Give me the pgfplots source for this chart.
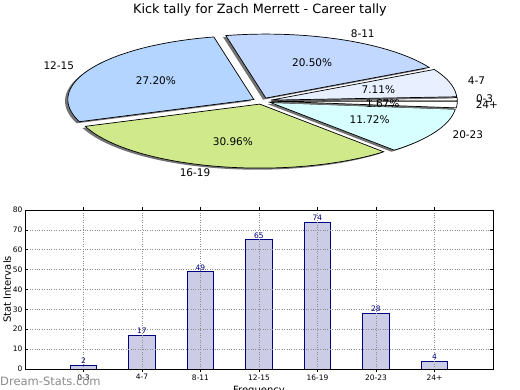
\documentclass[border=0pt]{standalone}
\usepackage{fontspec}
\setmainfont{DejaVu Sans}
\usepackage{pgfplots}
\pgfplotsset{compat=1.18}
\pgfkeys{/pgf/number format/assume math mode=true}

\definecolor{c03}{HTML}{FFFFFF}
\definecolor{c47}{HTML}{E8F0FF}
\definecolor{c811}{HTML}{C2D8FF}
\definecolor{c1215}{HTML}{B3D5FF}
\definecolor{c1619}{HTML}{D0EA8B}
\definecolor{c2023}{HTML}{D8FFFF}
\definecolor{c24}{HTML}{FFFFFF}
\definecolor{barfill}{HTML}{CCCCE6}
\definecolor{navyc}{HTML}{000080}

\newcommand\piefont{\fontsize{10.5}{12}\selectfont}

% pie data: value, colour, label
\pgfmathsetmacro\total{2+17+49+65+74+28+4}
\gdef\cum{0}
\newcommand\pieslice[3]{%
  \pgfmathsetmacro\sa{\cum/\total*360}%
  \pgfmathsetmacro\newcum{\cum+#1}%
  \xdef\cum{\newcum}%
  \pgfmathsetmacro\sb{\cum/\total*360}%
  \pgfmathsetmacro\sm{(\sa+\sb)/2}%
  \pgfmathsetmacro\ox{0.05*cos(\sm)}%
  \pgfmathsetmacro\oy{0.05*sin(\sm)}%
  \pgfmathsetmacro\shx{\ox-0.015}%
  \pgfmathsetmacro\shy{\oy-0.025}%
  \pgfmathsetmacro\lx{\ox+1.1*cos(\sm)}%
  \pgfmathsetmacro\ly{\oy+1.1*sin(\sm)}%
  \pgfmathsetmacro\px{\ox+0.6*cos(\sm)}%
  \pgfmathsetmacro\py{\oy+0.6*sin(\sm)}%
  \pgfmathsetmacro\pct{#1*100/\total}%
  \pgfmathtruncatemacro\ispos{\lx>0}%
  \ifnum\ispos=1 \def\anc{west}\else\def\anc{east}\fi
  \edef\tmp{\noexpand\addplot[fill=black!55, draw=none, domain=\sa:\sb, samples=80]
     ({\shx+cos(x)},{\shy+sin(x)}) -- (axis cs:\shx,\shy) -- cycle;}\tmp
  \edef\tmp{\noexpand\addplot[fill=#2, draw=black, line width=0.7pt, line join=miter, domain=\sa:\sb, samples=80]
     ({\ox+cos(x)},{\oy+sin(x)}) -- (axis cs:\ox,\oy) -- cycle;}\tmp
  \edef\tmp{\noexpand\node[anchor=\anc, font=\noexpand\piefont, inner sep=0pt] at (axis cs:\lx,\ly) {#3};}\tmp
  \edef\tmp{\noexpand\node[font=\noexpand\piefont, inner sep=0pt] at (axis cs:\px,\py)
     {\noexpand\pgfmathprintnumber[fixed,fixed zerofill,precision=2]{\pct}\noexpand\%};}\tmp
}

\begin{document}
\begin{tikzpicture}
\useasboundingbox (0,0) rectangle (520pt,390pt);

% title
\node[font=\fontsize{12.8}{14}\selectfont] at (260pt,380pt) {Kick tally for Zach Merrett - Career tally};

% pie chart
\begin{axis}[
  at={(262pt,289pt)}, anchor=origin,
  scale only axis, width=372pt, height=128pt,
  xmin=-1, xmax=1, ymin=-1, ymax=1,
  hide axis, clip=false,
]
\pieslice{2}{c03}{0-3}
\pieslice{17}{c47}{4-7}
\pieslice{49}{c811}{8-11}
\pieslice{65}{c1215}{12-15}
\pieslice{74}{c1619}{16-19}
\pieslice{28}{c2023}{20-23}
\pieslice{4}{c24}{24+}
\end{axis}

% bar chart
\begin{axis}[
  at={(25pt,21pt)}, anchor=south west,
  scale only axis, width=468pt, height=159pt,
  xmin=-1, xmax=7, ymin=0, ymax=80,
  xtick={0,...,6},
  xticklabels={0-3,4-7,8-11,12-15,16-19,20-23,24+},
  ytick={0,10,...,80},
  grid=major, grid style={dotted, black!45, line width=0.5pt},
  axis on top,
  tick align=inside, major tick length=3pt,
  tick style={black, line width=0.5pt},
  axis line style={black, line width=0.8pt},
  tick label style={font=\fontsize{7.5}{8}\selectfont},
  xticklabel style={yshift=1pt},
  yticklabel style={xshift=1pt},
  ylabel={Stat Intervals},
  xlabel={Frequency},
  label style={font=\fontsize{10}{11}\selectfont},
  ylabel style={yshift=-5pt},
  xlabel style={yshift=1pt},
  ybar, bar width=0.45,
  nodes near coords,
  nodes near coords style={font=\fontsize{7.5}{8}\selectfont, text=navyc, inner sep=1pt},
]
\addplot[fill=barfill, draw=navyc, line width=0.7pt]
  coordinates {(0,2) (1,17) (2,49) (3,65) (4,74) (5,28) (6,4)};
\end{axis}

% watermark
\node[anchor=base west, inner sep=0pt, text=black!45, font=\fontsize{11.5}{12}\selectfont] at (0pt,4pt) {Dream-Stats.com};
\end{tikzpicture}
\end{document}
